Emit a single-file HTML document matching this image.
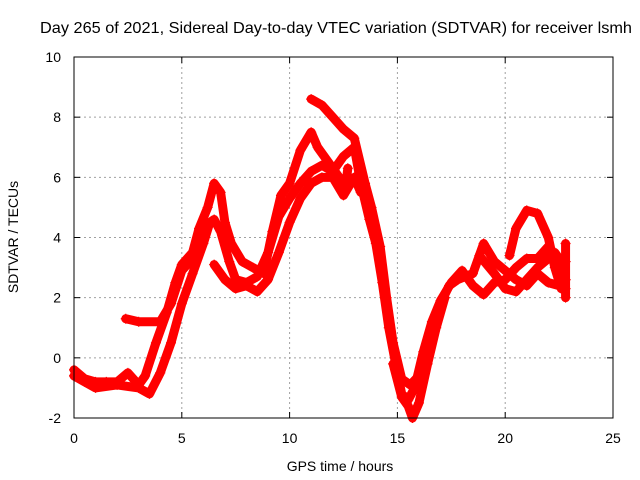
<!DOCTYPE html>
<html><head><meta charset="utf-8"><style>
body{margin:0;background:#fff}
svg{display:block;font-family:"Liberation Sans",sans-serif;font-size:14px}
</style></head><body>
<svg id="chart" width="640" height="480">
<text x="40" y="33" textLength="592" lengthAdjust="spacingAndGlyphs" style="font-size:16px">Day 265 of 2021, Sidereal Day-to-day VTEC variation (SDTVAR) for receiver lsmh</text>
<text x="340" y="471" text-anchor="middle">GPS time / hours</text>
<text transform="translate(18,237) rotate(-90)" text-anchor="middle">SDTVAR / TECUs</text>
<g id="grid"></g><g id="series"></g><g id="axes"></g>
</svg>
<script>
const xTicks=[0,5,10,15,20,25];
const yTicks=[-2,0,2,4,6,8,10];
const track1=[[0,-0.6],[0.5,-0.8],[1,-1],[2,-0.9],[3,-1.0],[3.5,-1.2],[4,-0.5],[4.5,0.5],[5,1.8],[5.5,2.8],[6,3.8],[6.3,4.5],[6.5,4.6],[6.8,4.2],[7.2,3.2],[7.5,2.6],[8,2.5],[8.5,2.7],[9,3.5],[9.5,4.7],[10,5.3],[10.5,5.8],[11,6.2],[11.5,6.4],[12,6.2],[12.5,6.7],[13,7.0],[13.3,5.8],[13.7,4.6],[14,3.8],[14.3,2.5],[14.6,1.0],[15,-0.5],[15.2,-1.2],[15.5,-1.4],[15.8,-1.0],[16.2,0.2],[16.6,1.2],[17,1.9],[17.5,2.5],[18,2.9],[18.5,2.4],[19,2.1],[19.5,2.5],[20,2.6],[20.5,3.0],[21,3.3],[21.5,3.3],[22,3.7],[22.5,3.2],[22.8,2.6]];
const track2=[[0,-0.4],[0.5,-0.7],[1,-0.8],[1.5,-0.8],[2,-0.8],[2.5,-0.5],[3,-0.9],[3.3,-0.6],[3.8,0.5],[4.3,1.5],[4.7,2.5],[5,3.1],[5.5,3.5],[5.8,4.3],[6.2,5.0],[6.5,5.8],[6.8,5.5],[7,4.5],[7.3,3.8],[7.8,3.2],[8.3,3.0],[8.8,2.8],[9.2,4.2],[9.6,5.4],[10,5.8],[10.5,6.9],[11,7.5],[11.3,7.0],[11.8,6.5],[12.3,6.0],[12.6,5.7],[12.7,6.3]];
const track3=[[11,8.6],[11.5,8.4],[12,8.0],[12.5,7.6],[13,7.3],[13.5,5.8],[13.8,5.0],[14.2,3.7],[14.5,2.0],[14.8,0.5],[15.2,-0.7],[15.6,-0.9],[16,-0.6],[16.3,0.2],[16.7,1.1],[17,1.8],[17.4,2.4],[17.8,2.6],[18.5,2.8],[19,3.8],[19.5,3.2],[20,2.9],[20.5,2.6],[21,2.4],[21.5,2.8],[22,2.5],[22.5,2.4],[22.8,2.3]];
const track4=[[2.4,1.3],[3,1.2],[4,1.2],[4.5,1.8],[5,2.9],[5.5,3.3],[6,4.0]];
const track5=[[6.5,3.1],[7,2.6],[7.5,2.3],[8,2.4],[8.5,2.2],[9,2.6],[9.5,3.5],[10,4.5],[10.5,5.3],[11,5.8],[11.5,6.0],[12,6.0],[12.5,5.4],[13,6.0],[13.3,5.5]];
const track6=[[14.8,-0.2],[15.2,-1.3],[15.5,-1.6],[15.7,-2],[16,-1.5],[16.4,-0.2],[16.8,1.0],[17.2,2.0]];
const track7=[[20.2,3.4],[20.5,4.3],[21,4.9],[21.5,4.8],[22,4.0],[22.3,3.0],[22.6,2.3]];
const track8=[[18.8,3.4],[19.5,2.8],[20,2.3],[20.5,2.2],[21,2.6],[21.5,3.0],[22,3.3],[22.3,3.5],[22.5,3.3],[22.8,3.2]];
const track9=[[22.8,3.8],[22.8,3.2],[22.8,2.6],[22.8,2.0]];
const tracks=[track1,track2,track3,track4,track5,track6,track7,track8,track9];
const X0=74,X1=613,Y0=418,Y1=57;
const sx=v=>X0+(v-0)/(25-0)*(X1-X0);
const sy=v=>Y0-(v+2)/(12)*(Y0-Y1);
const NS="http://www.w3.org/2000/svg";
function mk(tag,attrs,parent){const e=document.createElementNS(NS,tag);for(const k in attrs)e.setAttribute(k,attrs[k]);parent.appendChild(e);return e;}
const grid=document.getElementById('grid'),axes=document.getElementById('axes'),ser=document.getElementById('series');
xTicks.forEach(t=>{const x=sx(t);
 if(t>0&&t<25){const g=mk('line',{x1:x,x2:x,y1:Y1,y2:Y0,stroke:'#a0a0a0','stroke-dasharray':'2,3'},grid);
 
 }
 mk('line',{x1:x,x2:x,y1:Y0,y2:Y0-6,stroke:'#000'},axes);
 mk('line',{x1:x,x2:x,y1:Y1,y2:Y1+6,stroke:'#000'},axes);
 const l=mk('text',{x:x,y:443,'text-anchor':'middle'},axes);l.textContent=t;
 
 
});
yTicks.forEach(t=>{const y=sy(t);
 if(t>-2&&t<10){const g=mk('line',{x1:X0,x2:X1,y1:y,y2:y,stroke:'#a0a0a0','stroke-dasharray':'2,3'},grid);
 
 }
 mk('line',{x1:X0,x2:X0+6,y1:y,y2:y,stroke:'#000'},axes);
 mk('line',{x1:X1,x2:X1-6,y1:y,y2:y,stroke:'#000'},axes);
 const l=mk('text',{x:61,y:y+5,'text-anchor':'end'},axes);l.textContent=t;
 
 
});
const fr=mk('rect',{x:X0,y:Y1,width:X1-X0,height:Y0-Y1,fill:'none',stroke:'#000'},axes);


tracks.forEach((tr,i)=>{
 const p=mk('polyline',{points:tr.map(d=>sx(d[0])+','+sy(d[1])).join(' '),fill:'none',stroke:'#ff0000','stroke-width':9,'stroke-linejoin':'round','stroke-linecap':'round'},ser);
 
 
 tr.forEach(d=>{const x=sx(d[0]),y=sy(d[1]);
  const m=mk('path',{d:`M${x-5},${y}H${x+5}M${x},${y-5}V${y+5}`,stroke:'#ff0000','stroke-width':1.2},ser);
  
  
 });
});
</script>
</body></html>
